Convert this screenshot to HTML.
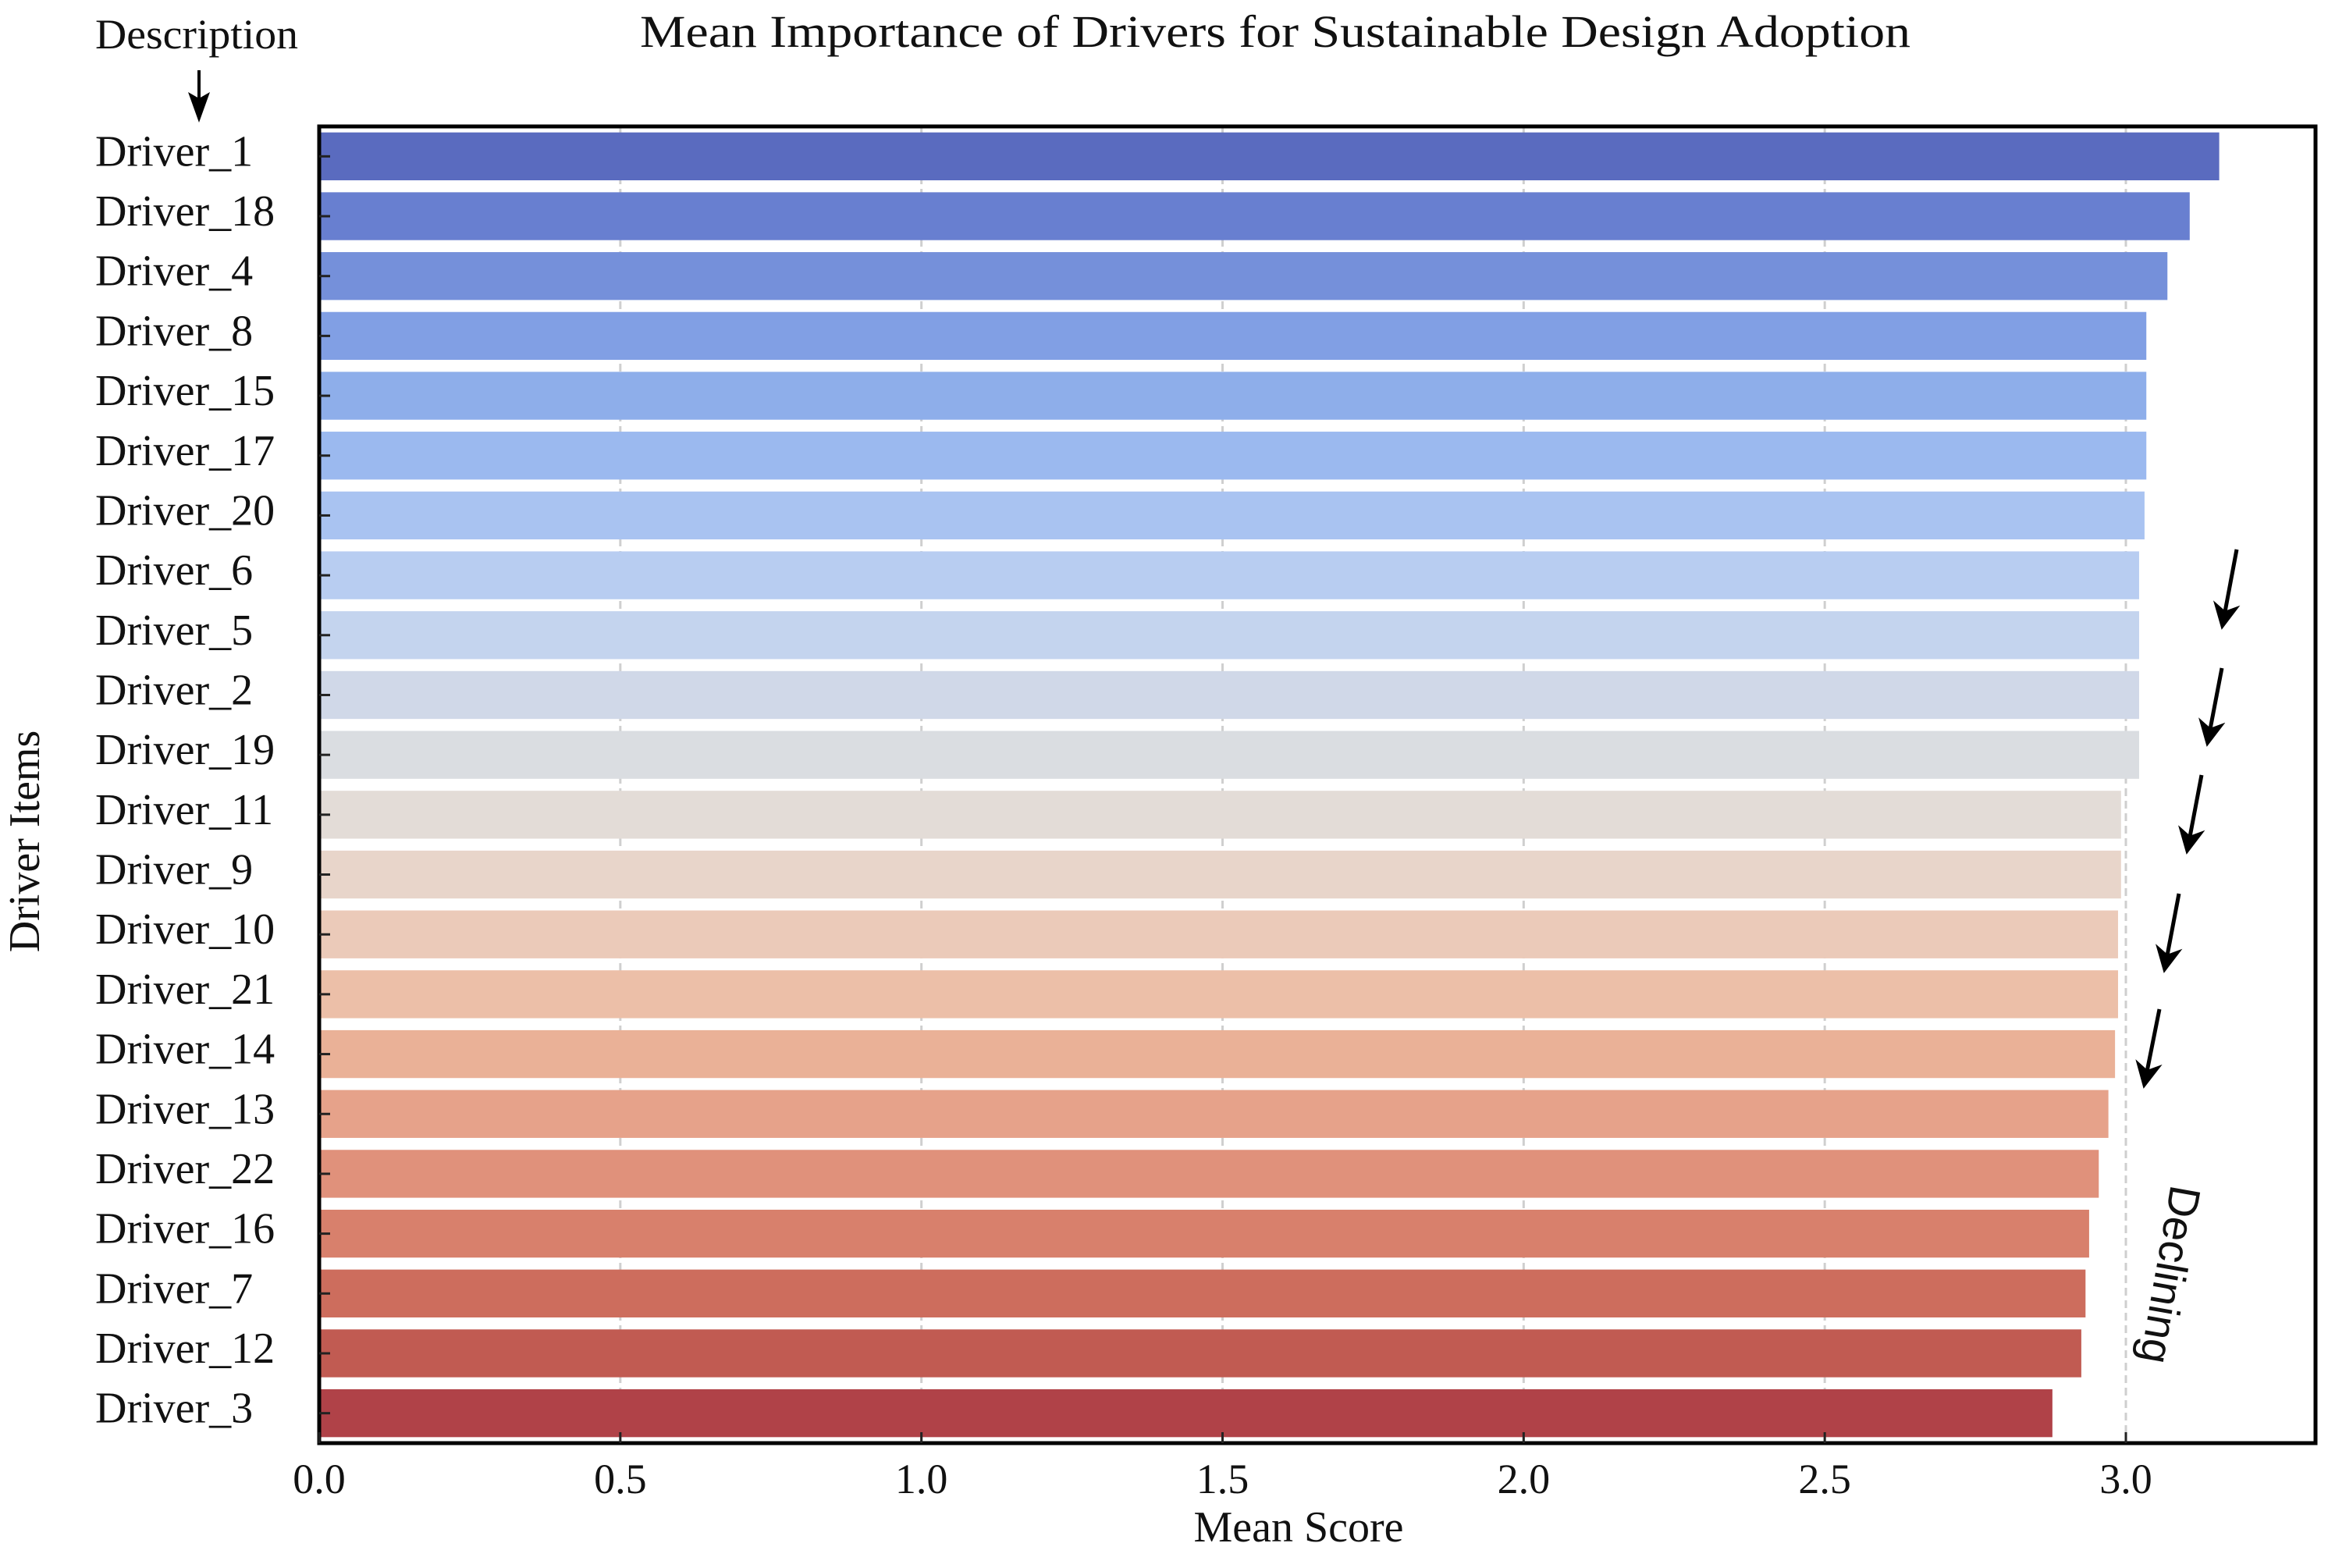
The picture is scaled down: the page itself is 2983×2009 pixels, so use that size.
<!DOCTYPE html>
<html><head><meta charset="utf-8"><style>
html,body{margin:0;padding:0;background:#fff}
svg text{font-family:"Liberation Serif",serif;fill:#111}
</style></head><body>
<svg id="chart" width="2983" height="2004" viewBox="0 0 2983 2004" xmlns="http://www.w3.org/2000/svg">
<defs><marker id="ah" viewBox="0 0 10 10" refX="8" refY="5" markerWidth="7" markerHeight="7" orient="auto"><path d="M0,0 L10,5 L0,10 L3,5 z" fill="#000"/></marker></defs>
<g id="grid"></g>
<g id="bars"></g>
<rect x="409" y="162" width="2558" height="1687" fill="none" stroke="#000" stroke-width="5"/>
<g id="yaxis"></g>
<g id="xaxis"></g>
<text x="1634" y="60" font-size="58" text-anchor="middle" textLength="1628" lengthAdjust="spacingAndGlyphs">Mean Importance of Drivers for Sustainable Design Adoption</text>
<text x="1664" y="1975" font-size="56" text-anchor="middle">Mean Score</text>
<text transform="translate(50,1078) rotate(-90)" font-size="56" text-anchor="middle">Driver Items</text>
<text x="122" y="62" font-size="54" textLength="260" lengthAdjust="spacingAndGlyphs">Description</text>
<g>
<line x1="255" y1="90" x2="255" y2="135" stroke="#000" stroke-width="4"/>
<polygon points="241,118 255,157 269,118 255,126" fill="#000"/>
</g>
<g stroke="#000" stroke-width="5" marker-end="url(#ah)">
<line x1="2866" y1="704" x2="2848" y2="800"/>
<line x1="2847" y1="856" x2="2829" y2="950"/>
<line x1="2821" y1="993" x2="2803" y2="1088"/>
<line x1="2792" y1="1145" x2="2774" y2="1240"/>
<line x1="2767" y1="1293" x2="2748" y2="1388"/>
</g>
<text transform="translate(2762,1630) rotate(100)" font-size="56" text-anchor="middle" style="font-family:'Liberation Sans',sans-serif">Declining</text>
</svg>
<script>
const categories=["Driver_1","Driver_18","Driver_4","Driver_8","Driver_15","Driver_17","Driver_20","Driver_6","Driver_5","Driver_2","Driver_19","Driver_11","Driver_9","Driver_10","Driver_21","Driver_14","Driver_13","Driver_22","Driver_16","Driver_7","Driver_12","Driver_3"];
const meanScores=[3.155,3.106,3.069,3.034,3.034,3.034,3.031,3.022,3.022,3.022,3.022,2.992,2.992,2.987,2.987,2.982,2.971,2.955,2.939,2.933,2.926,2.878];
const xTicks=[0,0.5,1.0,1.5,2.0,2.5,3.0];
const xTickLabels=["0.0","0.5","1.0","1.5","2.0","2.5","3.0"];
const colors=["#5a6bbf","#687fd0","#7590da","#819fe4","#8eaeea","#9bb9ef","#a9c3f1","#b8cdf1","#c4d4ee","#d0d8e8","#dadde1","#e3dcd7","#e8d5ca","#ebcab9","#ecbfa8","#eab197","#e6a28a","#e0917b","#d8806c","#cd6d5d","#c15b52","#b04248"];
const NS="http://www.w3.org/2000/svg";
const X0=409,X3=2724,TOP=162,BOT=1849;
const xs=v=>X0+(X3-X0)*v/3;
const band=(BOT-TOP)/categories.length;
const yc=i=>TOP+band*(i+0.5);
function mk(tag,attrs,parent){const e=document.createElementNS(NS,tag);for(const k in attrs)e.setAttribute(k,attrs[k]);parent.appendChild(e);return e;}
const grid=document.getElementById('grid'),bars=document.getElementById('bars'),ya=document.getElementById('yaxis'),xa=document.getElementById('xaxis');
xTicks.forEach((t,i)=>{
  if(t>0){const g=mk('line',{x1:xs(t),x2:xs(t),y1:TOP,y2:BOT,stroke:'#cfcfcf','stroke-width':3,'stroke-dasharray':'10,6'},grid);
  
  }
  const tk=mk('line',{x1:xs(t),x2:xs(t),y1:BOT-14,y2:BOT,stroke:'#222','stroke-width':3},xa);
  
  
  const tl=mk('text',{x:xs(t),y:1913,'font-size':54,'text-anchor':'middle'},xa);
  tl.textContent=xTickLabels[i];
  
  
});
categories.forEach((c,i)=>{
  const h=band*0.8;
  const r=mk('rect',{x:X0,y:yc(i)-h/2,width:xs(meanScores[i])-X0,height:h,fill:colors[i]},bars);
  
  
  const tk=mk('line',{x1:X0,x2:X0+14,y1:yc(i),y2:yc(i),stroke:'#222','stroke-width':3},ya);
  
  
  const tl=mk('text',{x:122,y:yc(i)+12,'font-size':56},ya);
  tl.textContent=c;
  
  
});
</script>
</body></html>
